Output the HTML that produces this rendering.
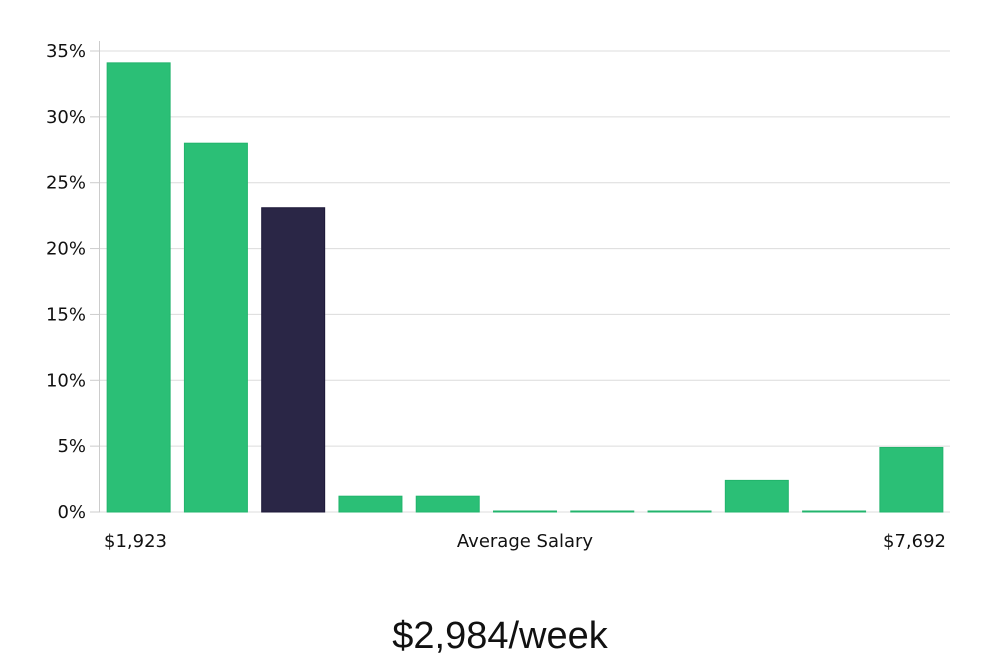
<!DOCTYPE html>
<html><head><meta charset="utf-8"><style>
body{margin:0;background:#fff;width:1000px;height:660px;overflow:hidden}
svg text{font-family:"DejaVu Sans","Liberation Sans",sans-serif;fill:#111}
</style></head><body>
<svg id="chart" width="1000" height="660"></svg>
<script>
const categories=["b1","b2","b3","b4","b5","b6","b7","b8","b9","b10","b11"];
const values=[34.1,28.0,23.1,1.2,1.2,0,0,0,2.4,0,4.9];
const highlight=[false,false,true,false,false,false,false,false,false,false,false];
const yTicks=[0,5,10,15,20,25,30,35];
const yTickLabels=["0%","5%","10%","15%","20%","25%","30%","35%"];
const NS="http://www.w3.org/2000/svg";
const svg=document.getElementById('chart');
const x0=100,x1=950,y0=512,yTop=51;
const y=v=>y0-(v/35)*(y0-yTop);
const band=(x1-x0)/categories.length;
const xb=i=>x0+i*band;
function mk(t,a){const e=document.createElementNS(NS,t);for(const k in a)e.setAttribute(k,a[k]);svg.appendChild(e);return e;}
yTicks.forEach((t,i)=>{
  const g=mk('line',{x1:x0,x2:x1,y1:y(t),y2:y(t),stroke:'#dcdcdc','stroke-width':1});
  
  
  const tk=mk('line',{x1:90,x2:x0,y1:y(t),y2:y(t),stroke:'#ccc','stroke-width':1});
  
  
  const l=mk('text',{x:86,y:y(t)+6,'text-anchor':'end','font-size':18});
  l.textContent=yTickLabels[i];
  
  
});
const ax=mk('line',{x1:x0-0.5,x2:x0-0.5,y1:41,y2:y0,stroke:'#ccc','stroke-width':1});


values.forEach((v,i)=>{
  const w=band*0.815,bx=xb(i)+(band-w)/2;
  const h=Math.max(y0-y(v),1);
  const r=mk('rect',{x:bx,y:y0-h,width:w,height:h,fill:highlight[i]?'#2a2646':'#2bbf76',stroke:highlight[i]?'#1c1838':'#22b46c','stroke-width':1});
  
  
});
function txt(s,x,yy,anchor,size,name,extra){const t=mk('text',Object.assign({x:x,y:yy,'text-anchor':anchor,'font-size':size},extra||{}));t.textContent=s;

return t;}
txt('$1,923',104,547,'start',18,'x-min-label');
txt('Average Salary',525,547,'middle',18,'x-axis-title');
txt('$7,692',946,547,'end',18,'x-max-label');
const tt=txt('$2,984/week',500,648,'middle',38,'average-salary-title');
tt.style.fontFamily='"Liberation Sans",sans-serif';
tt.style.fontWeight='300';
</script>
</body></html>
